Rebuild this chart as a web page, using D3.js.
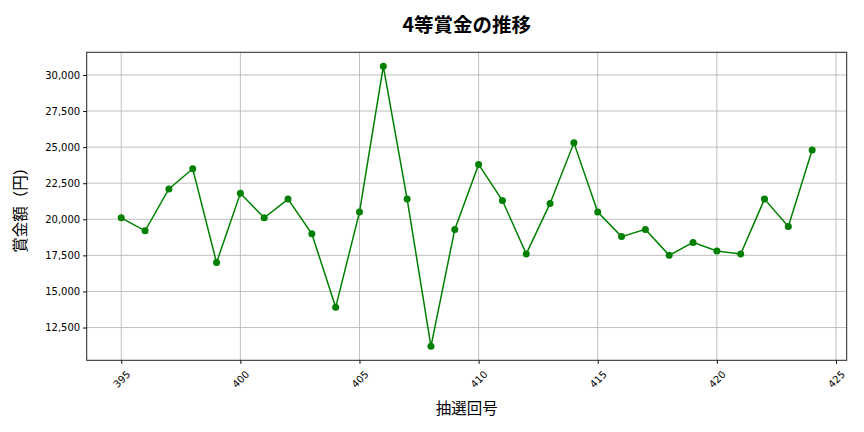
<!DOCTYPE html>
<html>
<head>
<meta charset="utf-8">
<script src="https://cdn.jsdelivr.net/npm/d3@7"></script>
<style>
  body { margin: 0; background: #fff; }
  text { font-family: "DejaVu Sans", sans-serif; }
  .jp { font-family: "Noto Sans CJK JP", sans-serif; }
</style>
</head>
<body>
<script>
// 抽選回号
const draws = [395, 396, 397, 398, 399, 400, 401, 402, 403, 404,
  405, 406, 407, 408, 409, 410, 411, 412, 413, 414,
  415, 416, 417, 418, 419, 420, 421, 422, 423, 424];
// 4等賞金 (円)
const prizes = [20100, 19200, 22100, 23500, 17000, 21800, 20100, 21400, 19000, 13900,
  20500, 30600, 21400, 11200, 19300, 23800, 21300, 17600, 21100, 25300,
  20500, 18800, 19300, 17500, 18400, 17800, 17600, 21400, 19500, 24800];
const xTicks = [395, 400, 405, 410, 415, 420, 425];
const yTicks = [12500, 15000, 17500, 20000, 22500, 25000, 27500, 30000];

const W = 864, H = 432;
const m = { left: 86.7, right: 864 - 846.7, top: 52.3, bottom: 432 - 360.3 };

const svg = d3.select("body").append("svg")
  .attr("width", W)
  .attr("height", H);

const xMin = d3.min(draws), xMax = d3.max(draws);
const xPad = (xMax - xMin) * 0.05;
const x = d3.scaleLinear()
  .domain([xMin - xPad, xMax + xPad])
  .range([m.left, W - m.right]);

const yMin = d3.min(prizes), yMax = d3.max(prizes);
const yPad = (yMax - yMin) * 0.05;
const y = d3.scaleLinear()
  .domain([yMin - yPad, yMax + yPad])
  .range([H - m.bottom, m.top]);

// grid
svg.append("g")
  .selectAll("line.vx")
  .data(xTicks)
  .enter()
    .append("line")
    .attr("x1", d => x(d)).attr("x2", d => x(d))
    .attr("y1", m.top).attr("y2", H - m.bottom)
    .attr("stroke", "#b0b0b0")
    .attr("stroke-width", 0.8);

svg.append("g")
  .selectAll("line.hy")
  .data(yTicks)
  .enter()
    .append("line")
    .attr("x1", m.left).attr("x2", W - m.right)
    .attr("y1", d => y(d)).attr("y2", d => y(d))
    .attr("stroke", "#b0b0b0")
    .attr("stroke-width", 0.8);

// axes
const xAxis = svg.append("g")
  .attr("transform", `translate(0,${H - m.bottom})`)
  .call(d3.axisBottom(x).tickValues(xTicks).tickSize(3.5).tickSizeOuter(0).tickFormat(d3.format("d")));
xAxis.select(".domain").remove();
xAxis.selectAll("text")
  .attr("font-size", 10)
  .attr("font-family", "DejaVu Sans")
  .attr("fill", "#000")
  .attr("text-anchor", "middle")
  .attr("dy", null)
  .attr("y", 0)
  .attr("dominant-baseline", "central")
  .attr("transform", "translate(0,19) rotate(-45)");

const yAxis = svg.append("g")
  .attr("transform", `translate(${m.left},0)`)
  .call(d3.axisLeft(y).tickValues(yTicks).tickSize(3.5).tickSizeOuter(0).tickFormat(d3.format(",")));
yAxis.select(".domain").remove();
yAxis.selectAll("text")
  .attr("font-size", 10)
  .attr("font-family", "DejaVu Sans")
  .attr("fill", "#000");

// frame
svg.append("rect")
  .attr("x", m.left).attr("y", m.top)
  .attr("width", W - m.left - m.right)
  .attr("height", H - m.top - m.bottom)
  .attr("fill", "none")
  .attr("stroke", "#222")
  .attr("stroke-width", 1);

// line + markers
const line = d3.line()
  .x((d, i) => x(draws[i]))
  .y(d => y(d));

svg.append("path")
  .datum(prizes)
  .attr("d", line)
  .attr("fill", "none")
  .attr("stroke", "green")
  .attr("stroke-width", 1.5);

svg.append("g")
  .selectAll("circle")
  .data(prizes)
  .enter()
    .append("circle")
    .attr("cx", (d, i) => x(draws[i]))
    .attr("cy", d => y(d))
    .attr("r", 3.5)
    .attr("fill", "green");

// labels
svg.append("text")
  .attr("class", "jp")
  .attr("x", (m.left + W - m.right) / 2)
  .attr("y", 32)
  .attr("text-anchor", "middle")
  .attr("font-size", 19.5)
  .attr("font-weight", "bold")
  .text("4等賞金の推移");

svg.append("text")
  .attr("class", "jp")
  .attr("x", (m.left + W - m.right) / 2)
  .attr("y", 414)
  .attr("text-anchor", "middle")
  .attr("font-size", 15.5)
  .text("抽選回号");

svg.append("text")
  .attr("class", "jp")
  .attr("transform", `translate(26,${(m.top + H - m.bottom) / 2}) rotate(-90)`)
  .attr("text-anchor", "middle")
  .attr("font-size", 15.5)
  .text("賞金額（円）");
</script>
</body>
</html>
